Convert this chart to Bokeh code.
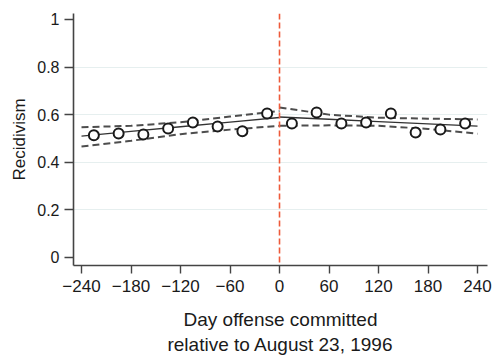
from bokeh.plotting import figure
from bokeh.models import Range1d, Span, FixedTicker
from bokeh.embed import file_html
from bokeh.resources import INLINE

# Binned recidivism rates (30-day bins)
bin_days = [-225, -195, -165, -135, -105, -75, -45, -15, 15, 45, 75, 105, 135, 165, 195, 225]
recid = [0.513, 0.521, 0.517, 0.542, 0.567, 0.550, 0.530, 0.605,
         0.563, 0.609, 0.563, 0.567, 0.605, 0.525, 0.538, 0.563]

# Left-side linear fit and confidence bounds
left_days = [-240, -180, -120, -60, 0]
left_fit = [0.510, 0.5295, 0.549, 0.5685, 0.588]
left_hi = [0.547, 0.553, 0.568, 0.592, 0.615]
left_lo = [0.466, 0.490, 0.518, 0.537, 0.553]

# Right-side linear fit and confidence bounds
right_days = [0, 60, 120, 180, 240]
right_fit = [0.590, 0.5805, 0.571, 0.5615, 0.552]
right_hi = [0.630, 0.600, 0.587, 0.583, 0.580]
right_lo = [0.553, 0.555, 0.553, 0.540, 0.520]

x_ticks = [-240, -180, -120, -60, 0, 60, 120, 180, 240]
y_ticks = [0, 0.2, 0.4, 0.6, 0.8, 1]
y_tick_labels = ["0", "0.2", "0.4", "0.6", "0.8", "1"]

p = figure(width=492, height=357, output_backend="svg", toolbar_location=None,
           x_range=Range1d(-249.7, 252.1), y_range=Range1d(-0.034, 1.025),
           min_border_left=73, min_border_right=5, min_border_top=13, min_border_bottom=92)
p.outline_line_color = None
p.background_fill_color = "white"
p.border_fill_color = "white"

p.xgrid.grid_line_color = None
p.ygrid.ticker = FixedTicker(ticks=[0.2, 0.4, 0.6, 0.8])
p.ygrid.grid_line_color = "#e6efef"
p.ygrid.grid_line_width = 1

font = "Liberation Sans"
axcol = "#444444"

p.xaxis.ticker = FixedTicker(ticks=x_ticks)
p.xaxis.major_label_overrides = {t: (str(t).replace("-", "\u2212")) for t in x_ticks}
p.yaxis.ticker = FixedTicker(ticks=y_ticks)
p.yaxis.major_label_overrides = {t: l for t, l in zip(y_ticks, y_tick_labels)}

for ax in (p.xaxis[0], p.yaxis[0]):
    ax.axis_line_color = axcol
    ax.axis_line_width = 1.6
    ax.major_tick_line_color = axcol
    ax.major_tick_line_width = 1.4
    ax.major_tick_in = 0
    ax.minor_tick_line_color = None
    ax.major_label_text_font = font
    ax.major_label_text_color = "#1a1a1a"
    ax.axis_label_text_font = font
    ax.axis_label_text_font_style = "normal"
    ax.axis_label_text_color = "#1a1a1a"

p.xaxis.major_tick_out = 8
p.yaxis.major_tick_out = 9
p.xaxis.major_label_text_font_size = "17px"
p.yaxis.major_label_text_font_size = "16px"
p.xaxis.major_label_standoff = 6
p.yaxis.major_label_standoff = 5
p.xaxis.axis_label = "Day offense committed\nrelative to August 23, 1996"
p.xaxis.axis_label_text_font_size = "19px"
p.xaxis.axis_label_standoff = 14
p.yaxis.axis_label = "Recidivism"
p.yaxis.axis_label_text_font_size = "17px"
p.yaxis.axis_label_standoff = 5

# cutoff line
p.add_layout(Span(location=0, dimension="height", line_color="#ee5a3a",
                  line_dash="6 3", line_width=1.6))

dash_col = "#4d4d4d"
for xs, fit, hi, lo in ((left_days, left_fit, left_hi, left_lo),
                        (right_days, right_fit, right_hi, right_lo)):
    p.line(xs, hi, line_color=dash_col, line_dash="7 4", line_width=2)
    p.line(xs, lo, line_color=dash_col, line_dash="7 4", line_width=2)
    p.line(xs, fit, line_color="#333333", line_width=1.3)

p.scatter(bin_days, recid, marker="circle", size=10, fill_color="white",
          line_color="#1a1a1a", line_width=2)

open("out.html", "w").write(file_html(p, INLINE))
